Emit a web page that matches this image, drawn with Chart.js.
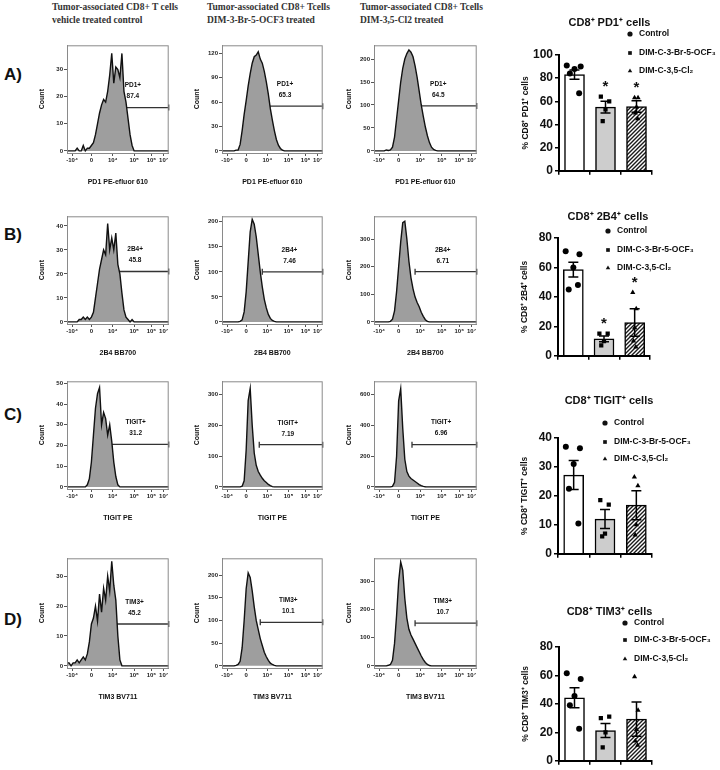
<!DOCTYPE html>
<html>
<head>
<meta charset="utf-8">
<script src="https://cdn.jsdelivr.net/npm/chart.js@4.4.0/dist/chart.umd.min.js"></script>
<style>
  body { margin: 0; background: #fff; width: 720px; height: 770px; position: relative; overflow: hidden; }
  canvas { position: absolute; }
  .hdr { position: absolute; font: bold 9.5px 'Liberation Serif', 'Times New Roman', serif; color: #333; line-height: 13px; white-space: nowrap; }
  .pl { position: absolute; font: bold 17px 'Liberation Sans', Arial, sans-serif; color: #111; line-height: 20px; }
</style>
</head>
<body>
<div class="hdr" style="left:52px;top:1px">Tumor-associated CD8+ T cells<br>vehicle treated control</div>
<div class="hdr" style="left:207px;top:1px">Tumor-associated CD8+ Tcells<br>DIM-3-Br-5-OCF3 treated</div>
<div class="hdr" style="left:360px;top:1px">Tumor-associated CD8+ Tcells<br>DIM-3,5-Cl2 treated</div>
<div class="pl" style="left:4px;top:65px">A)</div>
<div class="pl" style="left:4px;top:225px">B)</div>
<div class="pl" style="left:4px;top:405px">C)</div>
<div class="pl" style="left:4px;top:610px">D)</div>
<script>
// ---- histogram data (display units 0-100 on the biexponential axis) ----
const bins = [0,2,4,6,8,10,12,14,16,18,20,22,24,26,28,30,32,34,36,38,40,42,44,46,48,50,
              52,54,56,58,60,62,64,66,68,70,72,74,76,78,80,82,84,86,88,90,92,94,96,98,100];
const xTickPos = [5, 24, 45, 66, 83, 95];
const xTickLabels = ['-10⁴', '0', '10⁴', '10⁵', '10⁶', '10⁷'];

const histA1 = [0,0,0,0,0,1,0,0,2,0,1,1,2,3,6,10,14,17,19,18,22,28,36,25,31,30,27,36,22,18,12,6,2,0,
                0,0,0,0,0,0,0,0,0,0,0,0,0,0,0,0,0];
const histA2 = [0,0,0,0,0,0,0,1,1,8,25,45,62,80,95,108,116,118,122,113,108,98,85,70,52,38,25,14,7,3,1,0,
                0,0,0,0,0,0,0,0,0,0,0,0,0,0,0,0,0,0,0];
const histA3 = [0,0,0,0,0,0,2,1,2,8,30,70,110,150,180,200,212,220,215,205,185,160,130,100,75,52,33,18,8,3,1,
                0,0,0,0,0,0,0,0,0,0,0,0,0,0,0,0,0,0,0,0];
const histB1 = [0,0,0,0,0,0,1,1,2,1,2,1,2,4,10,16,22,26,30,28,41,30,35,30,37,24,20,12,5,2,1,0,1,
                0,0,0,0,0,0,0,0,0,0,0,0,0,0,0,0,0,0];
const histB2 = [0,0,0,0,0,0,0,0,0,1,4,20,60,120,180,205,195,170,135,100,70,45,28,15,7,3,1,
                0,0,0,0,0,0,0,0,0,0,0,0,0,0,0,0,0,0,0,0,0,0,0,0];
const histB3 = [0,0,0,0,0,0,0,0,2,10,40,110,200,290,360,365,300,220,160,120,90,70,55,35,20,8,2,
                0,0,0,0,0,0,0,0,0,0,0,0,0,0,0,0,0,0,0,0,0,0,0,0];
const histC1 = [0,0,0,0,0,0,0,0,0,0,1,4,12,25,38,45,48,30,36,33,25,30,22,12,5,1,
                0,0,0,0,0,0,0,0,0,0,0,0,0,0,0,0,0,0,0,0,0,0,0,0,0];
const histC2 = [0,0,0,0,0,0,0,0,0,0,2,20,120,280,320,200,110,70,50,38,28,20,14,8,4,1,
                0,0,0,0,0,0,0,0,0,0,0,0,0,0,0,0,0,0,0,0,0,0,0,0,0];
const histC3 = [0,0,0,0,0,0,0,0,0,3,30,200,560,640,380,180,100,70,55,45,35,25,15,8,3,1,
                0,0,0,0,0,0,0,0,0,0,0,0,0,0,0,0,0,0,0,0,0,0,0,0,0];
const histD1 = [1,1,0,1,1,2,1,2,3,2,4,8,14,16,20,15,24,18,26,22,30,25,35,27,22,10,2,
                0,0,0,0,0,0,0,0,0,0,0,0,0,0,0,0,0,0,0,0,0,0,0,0];
const histD2 = [0,0,0,0,0,0,0,1,3,10,40,100,170,205,195,165,130,100,80,60,45,30,20,12,6,3,1,
                0,0,0,0,0,0,0,0,0,0,0,0,0,0,0,0,0,0,0,0,0,0,0,0];
const histD3 = [0,0,0,0,0,0,0,2,5,20,80,180,300,370,340,240,170,130,110,95,80,65,50,35,22,12,5,1,
                0,0,0,0,0,0,0,0,0,0,0,0,0,0,0,0,0,0,0,0,0,0,0];

const histCounts = [[histA1, histA2, histA3], [histB1, histB2, histB3],
                    [histC1, histC2, histC3], [histD1, histD2, histD3]];
const histYMax = [[39, 130, 230], [44, 211, 383], [51, 343, 688], [36, 237, 383]];
const histYStep = [[10, 30, 50], [10, 50, 100], [10, 100, 200], [10, 50, 100]];
const gateStart = [[36, 32, 32], [40, 40, 40], [41, 37, 37], [39, 38, 40]];
const gateLevel = [[16, 55, 98], [21, 100, 182], [20.5, 137, 275], [14, 96, 152]];
const gatePct = [['87.4', '65.3', '64.5'], ['45.8', '7.46', '6.71'],
                 ['31.2', '7.19', '6.96'], ['45.2', '10.1', '10.7']];
const markers = ['PD1', '2B4', 'TIGIT', 'TIM3'];
const xTitles = ['PD1 PE-efluor 610', '2B4 BB700', 'TIGIT PE', 'TIM3 BV711'];

// ---- bar chart data (% of CD8+ cells) ----
const groups = ['Control', 'DIM-C-3-Br-5-OCF₃', 'DIM-C-3,5-Cl₂'];
const ctrlPD1 = [91, 90, 88, 84, 67];
const brPD1 = [64, 60, 53, 43];
const clPD1 = [63, 63, 55, 50, 45];
const ctrl2B4 = [71, 69, 60, 45, 48];
const br2B4 = [15, 15, 10, 7];
const cl2B4 = [43, 32, 19, 10, 6];
const ctrlTIGIT = [37, 36.5, 31, 22.5, 10.5];
const brTIGIT = [18.5, 17, 7, 6];
const clTIGIT = [26.5, 23.5, 10, 6.5];
const ctrlTIM3 = [61.5, 57.5, 45.5, 39, 22.5];
const brTIM3 = [30, 31, 20, 9.5];
const clTIM3 = [59, 35.5, 22, 14, 11];

const barPoints = [[ctrlPD1, brPD1, clPD1], [ctrl2B4, br2B4, cl2B4],
                   [ctrlTIGIT, brTIGIT, clTIGIT], [ctrlTIM3, brTIM3, clTIM3]];
const barMeans = [[83, 55, 55.5], [58.5, 11.5, 22.6], [27.2, 12, 16.8], [44.3, 21.3, 29.3]];
const barSems = [[4, 5, 5], [5, 2, 9.4], [5, 3.3, 5], [7, 5, 12]];
const barSig = [[false, true, true], [false, true, true], [false, false, false], [false, false, false]];
const barYMax = [100, 80, 40, 80];
const barYStep = [20, 20, 10, 20];
const barTitles = ['CD8⁺ PD1⁺ cells', 'CD8⁺ 2B4⁺ cells', 'CD8⁺ TIGIT⁺ cells', 'CD8⁺ TIM3⁺ cells'];
const barYTitles = ['% CD8⁺ PD1⁺ cells', '% CD8⁺ 2B4⁺ cells', '% CD8⁺ TIGIT⁺ cells', '% CD8⁺ TIM3⁺ cells'];

// ---- layout ----
const FONT = "'Liberation Sans', Arial, sans-serif";
Chart.defaults.font.family = FONT;
Chart.defaults.color = '#111';

const histCols = [{ x: 67, w: 104 }, { x: 222, w: 103 }, { x: 374, w: 105 }];
const histRows = [{ y: 42, h: 111 }, { y: 213, h: 111 }, { y: 378, h: 111 }, { y: 555, h: 113 }];
const barBoxes = [
  { axisX: 559, top: 55, bottom: 172, right: 652, titleY: 23, legX: 630, legY: [34, 53, 71] },
  { axisX: 558, top: 238, bottom: 357, right: 650, titleY: 217, legX: 608, legY: [231, 250, 268] },
  { axisX: 558, top: 438, bottom: 555, right: 652, titleY: 401, legX: 605, legY: [423, 442, 459] },
  { axisX: 559, top: 647, bottom: 762, right: 652, titleY: 612, legX: 625, legY: [623, 640, 659] }
];
const jitter = [-0.25, 0.2, 0.0, -0.15, 0.15];
const jitterScale = [1, 0.6, 0.25];
const pointStyles = ['circle', 'rect', 'triangle'];

function addCanvas(left, top, w, h) {
  const cv = document.createElement('canvas');
  cv.width = w; cv.height = h;
  cv.style.left = left + 'px';
  cv.style.top = top + 'px';
  document.body.appendChild(cv);
  return cv;
}

// frame + gate label for the flow histograms
const histDecor = {
  id: 'histDecor',
  afterDraw(chart, args, o) {
    const { ctx, chartArea: a, scales: s } = chart;
    ctx.save();
    ctx.strokeStyle = '#8a8a8a';
    ctx.lineWidth = 1;
    ctx.strokeRect(a.left + 0.5, a.top + 0.5, a.right - a.left - 1, a.bottom - a.top);
    const y = s.y.getPixelForValue(o.level);
    const x = s.x.getPixelForValue(o.start + (100 - o.start) * 0.45);
    ctx.fillStyle = '#111';
    ctx.font = 'bold 6.5px ' + FONT;
    ctx.textAlign = 'center';
    ctx.textBaseline = 'middle';
    ctx.fillText(o.name + '+', x, y - 22);
    ctx.fillText(o.pct, x, y - 11);
    ctx.restore();
  }
};

function drawHist(r, c) {
  const col = histCols[c], row = histRows[r];
  const padL = 29, padB = 33, padT = 2, padR = 3;
  const cv = addCanvas(col.x - padL, row.y - padT, col.w + padL + padR, row.h + padT + padB);
  const counts = histCounts[r][c];
  const yMax = histYMax[r][c], step = histYStep[r][c];
  const gs = gateStart[r][c], gl = gateLevel[r][c];
  new Chart(cv, {
    type: 'line',
    data: {
      datasets: [
        {
          data: bins.map((b, i) => ({ x: b, y: counts[i] })),
          fill: 'origin', backgroundColor: '#9e9e9e', borderColor: '#111',
          borderWidth: 1.4, pointRadius: 0, tension: 0
        },
        {
          data: [{ x: gs, y: gl }, { x: 100, y: gl }],
          fill: false, borderColor: '#333', borderWidth: 1.3, clip: false,
          pointStyle: 'line', pointRotation: 90, pointRadius: 3,
          pointBorderColor: '#333', pointBorderWidth: 1.3
        }
      ]
    },
    options: {
      responsive: false, animation: false, events: [],
      layout: { padding: { top: padT, right: padR, left: 0, bottom: 0 } },
      plugins: {
        legend: { display: false }, tooltip: { enabled: false },
        histDecor: { start: gs, level: gl, pct: gatePct[r][c], name: markers[r] }
      },
      scales: {
        x: {
          type: 'linear', min: 0, max: 100,
          afterFit(s) { s.height = padB; },
          afterBuildTicks(s) { s.ticks = xTickPos.map(v => ({ value: v })); },
          ticks: {
            callback: v => xTickLabels[xTickPos.indexOf(v)],
            font: { size: 6, weight: 'bold' }, color: '#222',
            maxRotation: 0, autoSkip: false, padding: 1
          },
          grid: { drawOnChartArea: false, tickLength: 3, color: '#555' },
          border: { color: '#8a8a8a' },
          title: { display: true, text: xTitles[r], font: { size: 7, weight: 'bold' }, color: '#111', padding: 0 }
        },
        y: {
          min: -yMax * 0.02, max: yMax,
          afterFit(s) { s.width = padL; },
          afterBuildTicks(s) {
            const t = [];
            for (let v = 0; v <= yMax; v += step) t.push({ value: v });
            s.ticks = t;
          },
          ticks: { font: { size: 6, weight: 'bold' }, color: '#222', padding: 1 },
          grid: { drawOnChartArea: false, tickLength: 3, color: '#555' },
          border: { color: '#8a8a8a' },
          title: { display: true, text: 'Count', font: { size: 7, weight: 'bold' }, color: '#111', padding: 0 }
        }
      }
    },
    plugins: [histDecor]
  });
}

function makeHatch() {
  const c = document.createElement('canvas');
  c.width = 4; c.height = 4;
  const g = c.getContext('2d');
  g.fillStyle = '#fff';
  g.fillRect(0, 0, 4, 4);
  g.strokeStyle = '#1a1a1a';
  g.lineWidth = 1.4;
  g.beginPath();
  g.moveTo(-1, 5); g.lineTo(5, -1);
  g.moveTo(3, 5); g.lineTo(5, 3);
  g.moveTo(-1, 1); g.lineTo(1, -1);
  g.stroke();
  return g.createPattern(c, 'repeat');
}

// error bars, asterisks, title and legend for the bar panels
const barDecor = {
  id: 'barDecor',
  afterDatasetsDraw(chart, args, o) {
    const { ctx, scales: { x, y }, chartArea: a } = chart;
    const top = chart.canvas.offsetTop;
    const left = chart.canvas.offsetLeft;
    ctx.save();
    ctx.strokeStyle = '#000';
    ctx.lineWidth = 1.5;
    o.means.forEach((m, i) => {
      const cx = x.getPixelForValue(i);
      const yt = y.getPixelForValue(m + o.sems[i]);
      const yb = y.getPixelForValue(m - o.sems[i]);
      ctx.beginPath();
      ctx.moveTo(cx, yt); ctx.lineTo(cx, yb);
      ctx.moveTo(cx - 5, yt); ctx.lineTo(cx + 5, yt);
      ctx.moveTo(cx - 5, yb); ctx.lineTo(cx + 5, yb);
      ctx.stroke();
      if (o.sig[i]) {
        const hi = Math.max(...o.points[i], m + o.sems[i]);
        ctx.fillStyle = '#111';
        ctx.font = 'bold 15px ' + FONT;
        ctx.textAlign = 'center';
        ctx.textBaseline = 'middle';
        ctx.fillText('*', cx, y.getPixelForValue(hi) - 10);
      }
    });
    ctx.fillStyle = '#111';
    ctx.textBaseline = 'middle';
    ctx.textAlign = 'center';
    ctx.font = 'bold 11px ' + FONT;
    ctx.fillText(o.title, (a.left + a.right) / 2 + 4, o.titleY - top);
    ctx.textAlign = 'left';
    ctx.font = 'bold 8.5px ' + FONT;
    groups.forEach((g, i) => {
      const yy = o.legY[i] - top;
      const xx = o.legX - left;
      Chart.helpers.drawPoint(ctx, { pointStyle: pointStyles[i], radius: 2.6, rotation: 0, borderWidth: 0 }, xx, yy);
      ctx.fillText(g, xx + 9, yy);
    });
    ctx.restore();
  }
};

function drawBar(r) {
  const b = barBoxes[r];
  const left = b.axisX - 38, top = b.titleY - 10;
  const cv = addCanvas(left, top, 720 - left, b.bottom + 8 - top);
  const scatter = barPoints[r].map((pts, g) => ({
    type: 'scatter', order: 0,
    data: pts.map((v, i) => ({ x: g + jitter[i] * jitterScale[g], y: v })),
    pointStyle: pointStyles[g], pointRadius: 3, backgroundColor: '#000', borderWidth: 0
  }));
  new Chart(cv, {
    type: 'bar',
    data: {
      datasets: [{
        data: barMeans[r].map((m, i) => ({ x: i, y: m })), order: 2,
        backgroundColor: ['#ffffff', '#cdcdcd', makeHatch()],
        borderColor: '#000', borderWidth: 1.5,
        barThickness: 20, grouped: false
      }].concat(scatter)
    },
    options: {
      responsive: false, animation: false, events: [],
      layout: { padding: { top: b.top - top, right: 720 - b.right, left: 0, bottom: 0 } },
      plugins: {
        legend: { display: false }, tooltip: { enabled: false },
        barDecor: {
          means: barMeans[r], sems: barSems[r], sig: barSig[r], points: barPoints[r],
          title: barTitles[r], titleY: b.titleY, legX: b.legX, legY: b.legY
        }
      },
      scales: {
        x: {
          type: 'linear', min: -0.5, max: 2.5, offset: false,
          afterFit(s) { s.height = 6; },
          afterBuildTicks(s) { s.ticks = [0, 1, 2].map(v => ({ value: v })); },
          ticks: { display: false },
          grid: { drawOnChartArea: false, tickLength: 4, color: '#000', lineWidth: 1.5 },
          border: { color: '#000', width: 2 }
        },
        y: {
          min: 0, max: barYMax[r],
          afterFit(s) { s.width = 38; },
          ticks: { stepSize: barYStep[r], font: { size: 12, weight: 'bold' }, color: '#111', padding: 2 },
          grid: { drawOnChartArea: false, tickLength: 4, color: '#000', lineWidth: 1.5 },
          border: { color: '#000', width: 2 },
          title: { display: true, text: barYTitles[r], font: { size: 8.5, weight: 'bold' }, color: '#111', padding: 0 }
        }
      }
    },
    plugins: [barDecor]
  });
}

for (let r = 0; r < 4; r++) {
  for (let c = 0; c < 3; c++) drawHist(r, c);
  drawBar(r);
}
</script>
</body>
</html>
